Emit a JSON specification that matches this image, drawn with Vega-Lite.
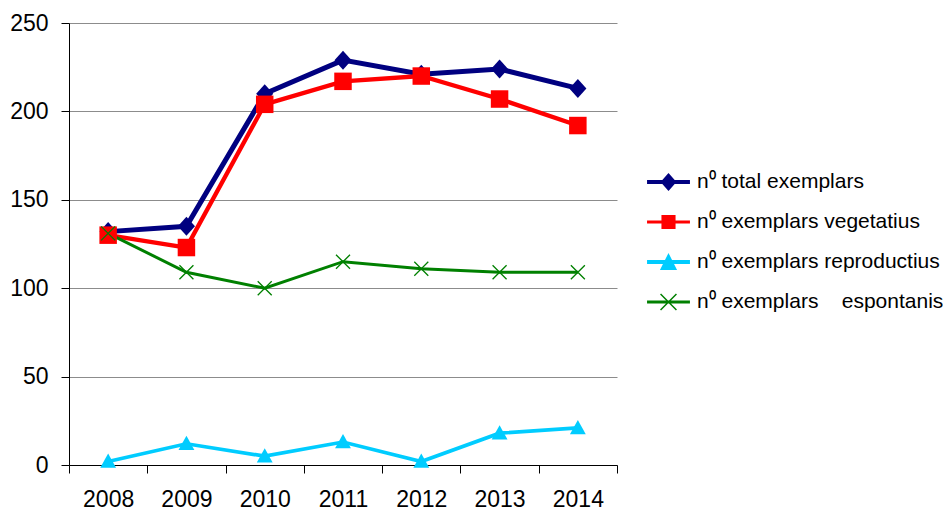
{
  "$schema": "https://vega.github.io/schema/vega-lite/v6.json",
  "autosize": "none",
  "padding": {"left": 69, "top": 23, "right": 326, "bottom": 50},
  "width": 548,
  "height": 442,
  "config": {
    "font": "Liberation Sans",
    "view": {"stroke": null},
    "background": "white"
  },
  "data": {
    "values": [
      {"year": "2008", "series": "n⁰ total exemplars", "value": 132},
      {"year": "2009", "series": "n⁰ total exemplars", "value": 135},
      {"year": "2010", "series": "n⁰ total exemplars", "value": 210},
      {"year": "2011", "series": "n⁰ total exemplars", "value": 229},
      {"year": "2012", "series": "n⁰ total exemplars", "value": 221},
      {"year": "2013", "series": "n⁰ total exemplars", "value": 224},
      {"year": "2014", "series": "n⁰ total exemplars", "value": 213},
      {"year": "2008", "series": "n⁰ exemplars vegetatius", "value": 130},
      {"year": "2009", "series": "n⁰ exemplars vegetatius", "value": 123},
      {"year": "2010", "series": "n⁰ exemplars vegetatius", "value": 204},
      {"year": "2011", "series": "n⁰ exemplars vegetatius", "value": 217},
      {"year": "2012", "series": "n⁰ exemplars vegetatius", "value": 220},
      {"year": "2013", "series": "n⁰ exemplars vegetatius", "value": 207},
      {"year": "2014", "series": "n⁰ exemplars vegetatius", "value": 192},
      {"year": "2008", "series": "n⁰ exemplars reproductius", "value": 2},
      {"year": "2009", "series": "n⁰ exemplars reproductius", "value": 12},
      {"year": "2010", "series": "n⁰ exemplars reproductius", "value": 5},
      {"year": "2011", "series": "n⁰ exemplars reproductius", "value": 13},
      {"year": "2012", "series": "n⁰ exemplars reproductius", "value": 2},
      {"year": "2013", "series": "n⁰ exemplars reproductius", "value": 18},
      {"year": "2014", "series": "n⁰ exemplars reproductius", "value": 21},
      {"year": "2008", "series": "n⁰ exemplars espontanis", "value": 131},
      {"year": "2009", "series": "n⁰ exemplars espontanis", "value": 109},
      {"year": "2010", "series": "n⁰ exemplars espontanis", "value": 100},
      {"year": "2011", "series": "n⁰ exemplars espontanis", "value": 115},
      {"year": "2012", "series": "n⁰ exemplars espontanis", "value": 111},
      {"year": "2013", "series": "n⁰ exemplars espontanis", "value": 109},
      {"year": "2014", "series": "n⁰ exemplars espontanis", "value": 109}
    ]
  },
  "encoding": {
    "x": {
      "field": "year",
      "type": "ordinal",
      "scale": {"type": "band", "paddingInner": 0, "paddingOuter": 0},
      "axis": {
        "title": null,
        "labelAngle": 0,
        "tickBand": "extent",
        "tickSize": 8,
        "labelPadding": 15,
        "labelFontSize": 23,
        "labelColor": "#000000",
        "domainColor": "#000000",
        "tickColor": "#000000",
        "domainWidth": 1,
        "grid": false
      }
    },
    "y": {
      "field": "value",
      "type": "quantitative",
      "scale": {"domain": [0, 250], "nice": false},
      "axis": {
        "title": null,
        "values": [0, 50, 100, 150, 200, 250],
        "tickSize": 8,
        "labelPadding": 13,
        "labelFontSize": 23,
        "labelColor": "#000000",
        "domainColor": "#000000",
        "tickColor": "#000000",
        "grid": true,
        "gridColor": "#8c8c8c",
        "gridWidth": 1
      }
    }
  },
  "layer": [
    {
      "mark": {"type": "line"},
      "encoding": {
        "color": {
          "field": "series",
          "type": "nominal",
          "legend": null,
          "scale": {
            "domain": ["n⁰ total exemplars", "n⁰ exemplars vegetatius", "n⁰ exemplars reproductius", "n⁰ exemplars espontanis"],
            "range": ["#000080", "#FF0000", "#00CCFF", "#008000"]
          }
        },
        "strokeWidth": {
          "field": "series",
          "type": "nominal",
          "legend": null,
          "scale": {
            "domain": ["n⁰ total exemplars", "n⁰ exemplars vegetatius", "n⁰ exemplars reproductius", "n⁰ exemplars espontanis"],
            "range": [5, 3, 5, 4]
          }
        }
      }
    },
    {
      "mark": {"type": "point", "filled": true, "opacity": 1, "strokeWidth": 0},
      "encoding": {
        "color": {
          "field": "series",
          "type": "nominal",
          "legend": null,
          "scale": {
            "domain": ["n⁰ total exemplars", "n⁰ exemplars vegetatius", "n⁰ exemplars reproductius", "n⁰ exemplars espontanis"],
            "range": ["#000080", "#FF0000", "#00CCFF", "#008000"]
          }
        },
        "shape": {
          "field": "series",
          "type": "nominal",
          "legend": null,
          "scale": {
            "domain": ["n⁰ total exemplars", "n⁰ exemplars vegetatius", "n⁰ exemplars reproductius", "n⁰ exemplars espontanis"],
            "range": [
              "M0,-1L0.9,0L0,1L-0.9,0Z",
              "M-1,-1H1V1H-1Z",
              "M0,-1L1,0.8L-1,0.8Z",
              "M-0.934,-1.066L1.066,0.934L0.934,1.066L-1.066,-0.934Z M1.066,-0.934L-0.934,1.066L-1.066,0.934L0.934,-1.066Z"
            ]
          }
        },
        "size": {
          "field": "series",
          "type": "nominal",
          "legend": null,
          "scale": {
            "domain": ["n⁰ total exemplars", "n⁰ exemplars vegetatius", "n⁰ exemplars reproductius", "n⁰ exemplars espontanis"],
            "range": [361, 196, 400, 256]
          }
        }
      }
    },
    {
      "transform": [{"filter": "false"}],
      "mark": {"type": "point", "filled": true, "opacity": 1, "strokeWidth": 0},
      "encoding": {
        "color": {
          "field": "series",
          "type": "nominal",
          "scale": {
            "domain": ["n⁰ total exemplars", "n⁰ exemplars vegetatius", "n⁰ exemplars reproductius", "n⁰ exemplars espontanis"],
            "range": ["#000080", "#FF0000", "#00CCFF", "#008000"]
          },
          "legend": {
            "title": null,
            "orient": "none",
            "direction": "vertical",
            "legendX": 584.5,
            "legendY": 144,
            "padding": 0,
            "symbolSize": 900,
            "symbolStrokeWidth": 0,
            "symbolOpacity": 1,
            "labelOffset": 13.5,
            "rowPadding": 15,
            "labelFontSize": 21,
            "labelColor": "#000000",
            "labelLimit": 400,
            "labelExpr": "replace(datum.label, 'exemplars espontanis', 'exemplars\u00a0\u00a0\u00a0\u00a0espontanis')"
          }
        },
        "shape": {
          "field": "series",
          "type": "nominal",
          "scale": {
            "domain": ["n⁰ total exemplars", "n⁰ exemplars vegetatius", "n⁰ exemplars reproductius", "n⁰ exemplars espontanis"],
            "range": [
              "M-1.43,-0.13H1.43V0.13H-1.43Z M0,-0.6L0.53,0L0,0.6L-0.53,0Z",
              "M-1.43,-0.1H1.43V0.1H-1.43Z M-0.47,-0.47H0.47V0.47H-0.47Z",
              "M-1.43,-0.13H1.43V0.13H-1.43Z M0,-0.6L0.57,0.53L-0.57,0.53Z",
              "M-1.43,-0.1H1.43V0.1H-1.43Z M-0.495,-0.565L0.565,0.495L0.495,0.565L-0.565,-0.495Z M0.565,-0.495L-0.495,0.565L-0.565,0.495L0.495,-0.565Z"
            ]
          },
          "legend": {
            "title": null,
            "orient": "none",
            "direction": "vertical",
            "legendX": 584.5,
            "legendY": 144,
            "padding": 0,
            "symbolSize": 900,
            "symbolStrokeWidth": 0,
            "symbolOpacity": 1,
            "labelOffset": 13.5,
            "rowPadding": 15,
            "labelFontSize": 21,
            "labelColor": "#000000",
            "labelLimit": 400,
            "labelExpr": "replace(datum.label, 'exemplars espontanis', 'exemplars\u00a0\u00a0\u00a0\u00a0espontanis')"
          }
        }
      }
    }
  ],
  "resolve": {
    "scale": {"color": "independent", "shape": "independent", "size": "independent", "strokeWidth": "independent"}
  }
}
